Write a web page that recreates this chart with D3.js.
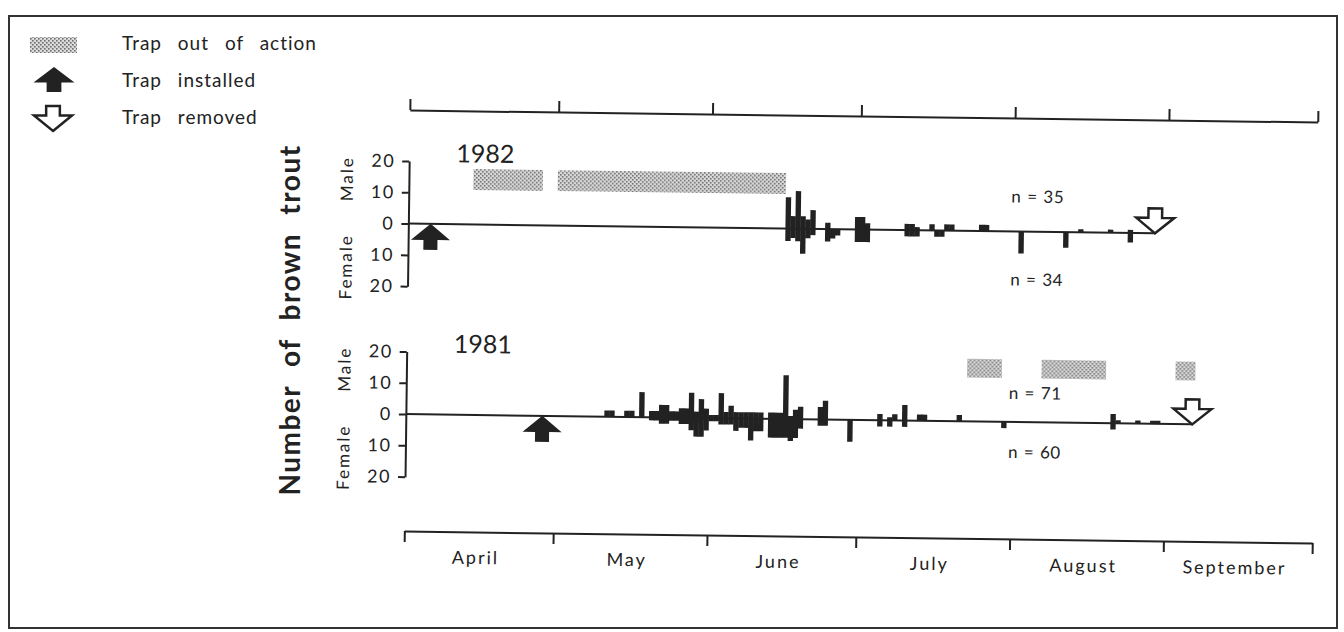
<!DOCTYPE html>
<html lang="en">
<head>
<meta charset="UTF-8">
<title>Brown trout trap catches 1981-1982</title>
<style type="text/css">
    html, body { padding:0; margin:0; background:#fff; }
    text { font-family: Lato, "DejaVu Sans", sans-serif; fill:#222; }
</style>
</head>
<body>
<script src="https://d3js.org/d3.v7.min.js"></script>
<script type="text/javascript">
    var width = 1344,
        height = 632;

    // month labels and y tick values
    var months = ['April', 'May', 'June', 'July', 'August', 'September'];
    var yTicks = [20, 10, 0, -10, -20];

    // 1982 daily catch
    var dates1982 = ['06-16','06-17','06-18','06-19','06-20','06-21',
                     '06-24','06-25','06-26','06-30','07-01','07-02',
                     '07-10','07-11','07-12','07-15','07-16','07-17',
                     '07-18','07-19','07-25','07-26','08-02','08-11',
                     '08-14','08-20','08-24'];
    var male1982   = [10,4,12,4,3,6,  2,0,0,4,4,2,  2,2,1,2,0,0,  2,2,2,2,0,0,  1,1,1];
    var female1982 = [4,3,4,8,3,2,    4,3,2,4,4,4,  2,2,2,0,2,2,  0,0,0,0,7,5,  0,0,3];
    var out1982 = [['04-14', '04-28'], ['05-01', '06-16']];
    var installed1982 = '04-05', removed1982 = '08-29';
    var n1982 = [35, 34];

    // 1981 daily catch
    var dates1981 = ['05-11','05-12','05-15','05-16','05-18',
                     '05-20','05-21','05-22','05-23','05-24','05-25',
                     '05-26','05-27','05-28','05-29','05-30','05-31',
                     '06-01','06-02','06-03','06-04','06-05','06-06',
                     '06-07','06-08','06-09','06-10','06-11',
                     '06-13','06-14','06-15','06-16','06-17','06-18','06-19',
                     '06-23','06-24','06-29',
                     '07-05','07-07','07-08','07-10','07-13','07-14','07-21','07-30',
                     '08-21','08-22','08-26','08-29','08-30'];
    var male1981   = [2,2,2,2,8,
                      2,2,4,4,2,2,
                      3,3,8,2,6,3,
                      1,1,8,2,4,2,
                      2,2,2,2,2,
                      2,2,2,14,1,3,4,
                      4,6,0,
                      2,1,2,5,2,2,2,0,
                      3,1,1,1,1];
    var female1981 = [0,0,0,0,0,
                      1,1,2,2,1,1,
                      2,2,4,6,6,4,
                      1,1,2,2,2,4,
                      3,3,7,4,4,
                      6,6,6,6,7,6,3,
                      2,2,7,
                      2,2,0,2,0,0,0,2,
                      2,0,0,0,0];
    var out1981 = [['07-23', '07-30'], ['08-07', '08-20'], ['09-03', '09-07']];
    var installed1981 = '04-28', removed1981 = '09-06';
    var n1981 = [71, 60];

    var parse = d3.timeParse('%m-%d');

    var svg = d3.select('body').append('svg')
        .attr('width', width)
        .attr('height', height);

    var defs = svg.append('defs');
    var pat = defs.append('pattern')
        .attr('id', 'stipple')
        .attr('patternUnits', 'userSpaceOnUse')
        .attr('width', 4).attr('height', 4);
    pat.append('rect').attr('width', 4).attr('height', 4).attr('fill', '#dadada');
    pat.append('rect').attr('x', 0).attr('y', 0).attr('width', 1.6).attr('height', 1.6).attr('fill', '#6f6f6f');
    pat.append('rect').attr('x', 2).attr('y', 2).attr('width', 1.6).attr('height', 1.6).attr('fill', '#6f6f6f');

    // frame
    svg.append('rect')
        .attr('x', 9).attr('y', 16)
        .attr('width', 1328).attr('height', 612)
        .attr('fill', 'none')
        .attr('stroke', '#333')
        .attr('stroke-width', 2);

    function arrowPath(w, h, dir) {
        var hh = h * 0.62, sw = w * 0.18, s = dir;
        return 'M0,0 L' + (w / 2) + ',' + (s * hh) + ' L' + sw + ',' + (s * hh) +
               ' L' + sw + ',' + (s * h) + ' L' + (-sw) + ',' + (s * h) +
               ' L' + (-sw) + ',' + (s * hh) + ' L' + (-w / 2) + ',' + (s * hh) + ' Z';
    }

    // legend
    var legend = svg.append('g').attr('class', 'legend');
    legend.append('rect')
        .attr('x', 30).attr('y', 37).attr('width', 47).attr('height', 16)
        .attr('fill', 'url(#stipple)');
    legend.append('path')
        .attr('transform', 'translate(54,67)')
        .attr('d', arrowPath(41, 25, 1))
        .attr('fill', '#222');
    legend.append('path')
        .attr('transform', 'translate(53,131)')
        .attr('d', arrowPath(38, 25, -1))
        .attr('fill', '#fff').attr('stroke', '#222').attr('stroke-width', 2.5)
        .attr('stroke-linejoin', 'miter');
    legend.selectAll('text.leg')
        .data(['Trap out of action', 'Trap installed', 'Trap removed'])
        .enter().append('text')
        .attr('class', 'leg')
        .attr('x', 122)
        .attr('y', function(d, i) { return [50, 87, 124][i]; })
        .attr('font-size', 19)
        .attr('letter-spacing', 1)
        .attr('word-spacing', 10)
        .text(function(d) { return d; });

    // big y title
    svg.append('text')
        .attr('transform', 'translate(300,320) rotate(-90)')
        .attr('text-anchor', 'middle')
        .attr('font-size', 28)
        .attr('font-weight', 700)
        .attr('letter-spacing', 1.5)
        .attr('word-spacing', 10)
        .text('Number of brown trout');

    // the scanned figure is drawn slightly tilted
    var plot = svg.append('g').attr('transform', 'rotate(0.75,860,330)');

    var xScale = d3.scaleTime()
        .domain([parse('04-01'), parse('10-01')])
        .range([407, 1315]);

    var topAxis = d3.axisTop(xScale).ticks(d3.timeMonth.every(1))
        .tickFormat('').tickSize(11).tickSizeOuter(0);
    var bottomAxis = d3.axisBottom(xScale).ticks(d3.timeMonth.every(1))
        .tickFormat('').tickSize(11).tickSizeOuter(0);

    function styleAxis(g) {
        g.selectAll('path, line').attr('stroke', '#222').attr('stroke-width', 2);
    }

    plot.append('g').attr('class', 'top-axis')
        .attr('transform', 'translate(0,116)')
        .call(topAxis).call(styleAxis);
    plot.append('g').attr('class', 'bottom-axis')
        .attr('transform', 'translate(0,537)')
        .call(bottomAxis).call(styleAxis);

    plot.selectAll('text.month')
        .data(months)
        .enter().append('text')
        .attr('class', 'month')
        .attr('x', function(d, i) {
            var a = d3.timeMonth.offset(parse('04-01'), i),
                b = d3.timeMonth.offset(a, 1);
            return (xScale(a) + xScale(b)) / 2 - 3;
        })
        .attr('y', 569)
        .attr('text-anchor', 'middle')
        .attr('font-size', 18)
        .attr('letter-spacing', 2)
        .text(function(d) { return d; });

    var panels = [
        { year: '1982', y0: 229.5, dates: dates1982, male: male1982, female: female1982,
          out: out1982, band: [11, 17.7], installed: installed1982, removed: removed1982,
          n: n1982, nDy: [-35, 48] },
        { year: '1981', y0: 420, dates: dates1981, male: male1981, female: female1981,
          out: out1981, band: [14, 20], installed: installed1981, removed: removed1981,
          n: n1981, nDy: [-29, 30] }
    ];

    panels.forEach(function(p) {
        var g = plot.append('g').attr('class', 'panel-' + p.year);
        var yScale = d3.scaleLinear().domain([-20, 20]).range([p.y0 + 62.6, p.y0 - 62.6]);
        var dayW = function(d) { return xScale(d3.timeDay.offset(d, 1)) - xScale(d); };
        var mid = function(s) { var d = parse(s); return xScale(d) + dayW(d) / 2; };

        // trap out of action periods
        g.selectAll('rect.out')
            .data(p.out)
            .enter().append('rect')
            .attr('class', 'out')
            .attr('x', function(d) { return xScale(parse(d[0])); })
            .attr('width', function(d) { return xScale(parse(d[1])) - xScale(parse(d[0])); })
            .attr('y', yScale(p.band[1]))
            .attr('height', yScale(p.band[0]) - yScale(p.band[1]))
            .attr('fill', 'url(#stipple)');

        var rows = p.dates.map(function(s, i) {
            return { date: parse(s), male: p.male[i], female: p.female[i] };
        });

        g.selectAll('rect.male')
            .data(rows.filter(function(d) { return d.male > 0; }))
            .enter().append('rect')
            .attr('class', 'male')
            .attr('x', function(d) { return xScale(d.date); })
            .attr('width', function(d) { return dayW(d.date) + 0.4; })
            .attr('y', function(d) { return yScale(d.male); })
            .attr('height', function(d) { return yScale(0) - yScale(d.male); })
            .attr('fill', '#222');

        g.selectAll('rect.female')
            .data(rows.filter(function(d) { return d.female > 0; }))
            .enter().append('rect')
            .attr('class', 'female')
            .attr('x', function(d) { return xScale(d.date); })
            .attr('width', function(d) { return dayW(d.date) + 0.4; })
            .attr('y', yScale(0))
            .attr('height', function(d) { return yScale(-d.female) - yScale(0); })
            .attr('fill', '#222');

        // zero line up to the removal arrow
        g.append('line')
            .attr('x1', xScale.range()[0]).attr('x2', mid(p.removed))
            .attr('y1', yScale(0)).attr('y2', yScale(0))
            .attr('stroke', '#222').attr('stroke-width', 2);

        var yAxis = d3.axisLeft(yScale).tickValues(yTicks)
            .tickFormat(function(d) { return Math.abs(d); })
            .tickSize(7).tickPadding(7).tickSizeOuter(0);
        var ya = g.append('g')
            .attr('transform', 'translate(' + xScale.range()[0] + ',0)')
            .call(yAxis).call(styleAxis);
        ya.selectAll('text')
            .attr('font-family', 'Lato, sans-serif')
            .attr('font-size', 18)
            .attr('letter-spacing', 1.5)
            .attr('fill', '#222');

        g.append('text')
            .attr('transform', 'translate(351,' + (p.y0 - 44) + ') rotate(-90)')
            .attr('text-anchor', 'middle')
            .attr('font-size', 17).attr('letter-spacing', 2)
            .text('Male');
        g.append('text')
            .attr('transform', 'translate(351,' + (p.y0 + 44) + ') rotate(-90)')
            .attr('text-anchor', 'middle')
            .attr('font-size', 17).attr('letter-spacing', 2)
            .text('Female');

        g.append('text')
            .attr('x', 483).attr('y', p.y0 - 62)
            .attr('text-anchor', 'middle')
            .attr('font-size', 25)
            .text(p.year);

        g.selectAll('text.n')
            .data(p.n)
            .enter().append('text')
            .attr('class', 'n')
            .attr('x', 1036)
            .attr('y', function(d, i) { return p.y0 + p.nDy[i]; })
            .attr('dy', '0.35em')
            .attr('text-anchor', 'middle')
            .attr('font-size', 17)
            .attr('letter-spacing', 0.5)
            .attr('word-spacing', 1)
            .text(function(d) { return 'n = ' + d; });

        g.append('path')
            .attr('transform', 'translate(' + mid(p.installed) + ',' + yScale(0) + ')')
            .attr('d', arrowPath(39, 26, 1))
            .attr('fill', '#222');
        g.append('path')
            .attr('transform', 'translate(' + mid(p.removed) + ',' + yScale(0) + ')')
            .attr('d', arrowPath(38, 25, -1))
            .attr('fill', '#fff').attr('stroke', '#222').attr('stroke-width', 2.5);
    });
</script>
</body>
</html>
